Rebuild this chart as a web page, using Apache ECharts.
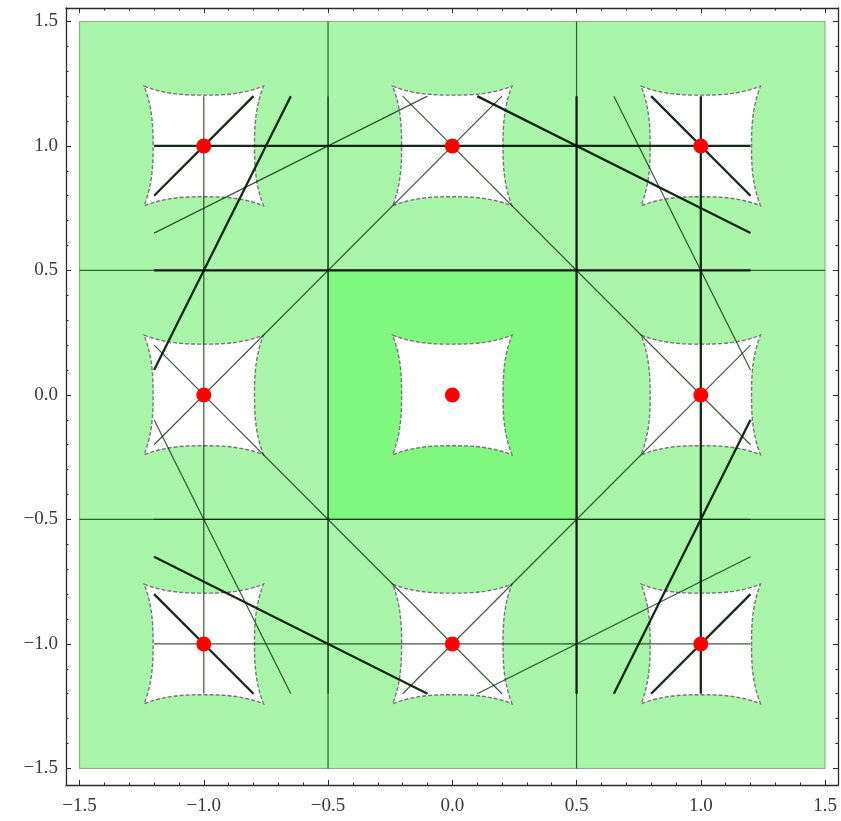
<!DOCTYPE html>
<html>
<head>
<meta charset="utf-8">
<script src="https://cdn.jsdelivr.net/npm/echarts@6/dist/echarts.min.js"></script>
<style>
  html, body { margin: 0; padding: 0; background: #ffffff; }
  #chart { width: 841px; height: 821px; }
</style>
</head>
<body>
<div id="chart"></div>
<script>
// Axis extents and tick positions
const xRange = [-1.5545, 1.552];
const yRange = [-1.5665, 1.554];
const majorTicks = [-1.5, -1.0, -0.5, 0.0, 0.5, 1.0, 1.5];
const minorTicks = [];
for (let k = -15; k <= 15; k++) minorTicks.push(k / 10);

// Shaded regions: [x0, y0, x1, y1]
const outerRegion = [[-1.5, -1.5, 1.5, 1.5]];
const innerRegion = [[-0.5, -0.5, 0.5, 0.5]];

// Cell boundaries spanning the whole domain: [x1, y1, x2, y2]
const cellBoundaries = [
  [-0.5, -1.5, -0.5, 1.5],
  [0.5, -1.5, 0.5, 1.5],
  [-1.5, -0.5, 1.5, -0.5],
  [-1.5, 0.5, 1.5, 0.5]
];

// Heavy line segments: [x1, y1, x2, y2]
const thickSegments = [
  [-1.2, 1.0, 1.2, 1.0],
  [1.0, -1.2, 1.0, 1.2],
  [-1.2, 0.5, 1.2, 0.5],
  [0.5, -1.2, 0.5, 1.2],
  [-1.2, 0.8, -0.8, 1.2],
  [0.8, 1.2, 1.2, 0.8],
  [0.8, -1.2, 1.2, -0.8],
  [-1.2, -0.8, -0.8, -1.2],
  [-1.2, 0.1, -0.65, 1.2],
  [0.65, -1.2, 1.2, -0.1],
  [0.1, 1.2, 1.2, 0.65],
  [-1.2, -0.65, -0.1, -1.2]
];

// Light line segments: [x1, y1, x2, y2]
const thinSegments = [
  [-1.2, -1.0, 1.2, -1.0],
  [-1.0, -1.2, -1.0, 1.2],
  [-1.2, -0.5, 1.2, -0.5],
  [-0.5, -1.2, -0.5, 1.2],
  [-1.2, -0.2, 0.2, 1.2],
  [-0.2, 1.2, 1.2, -0.2],
  [-0.2, -1.2, 1.2, 0.2],
  [-1.2, 0.2, 0.2, -1.2],
  [-1.2, 0.65, -0.1, 1.2],
  [0.1, -1.2, 1.2, -0.65],
  [0.65, 1.2, 1.2, 0.1],
  [-1.2, -0.1, -0.65, -1.2]
];

// Fixed points (centres of the concave cells)
const fixedPoints = [
  [-1, 1], [0, 1], [1, 1],
  [-1, 0], [0, 0], [1, 0],
  [-1, -1], [0, -1], [1, -1]
];

// Concave square outline parameters (half-size, edge sag, edge exponent)
const cellHalf = 0.24;
const cellSag = 0.036;
const cellExp = 2.6;

function fmtTick(v) {
  return (v < 0 ? '\u2212' : '') + Math.abs(v).toFixed(1);
}

function rectItem(params, api) {
  const p0 = api.coord([api.value(0), api.value(3)]);
  const p1 = api.coord([api.value(2), api.value(1)]);
  return { type: 'rect', shape: { x: p0[0], y: p0[1], width: p1[0] - p0[0], height: p1[1] - p0[1] } };
}

function segmentRenderer(stroke, width) {
  return function (params, api) {
    const a = api.coord([api.value(0), api.value(1)]);
    const b = api.coord([api.value(2), api.value(3)]);
    return {
      type: 'line',
      shape: { x1: a[0], y1: a[1], x2: b[0], y2: b[1] },
      style: { stroke: stroke, lineWidth: width, lineCap: 'butt' }
    };
  };
}

function concaveCell(params, api) {
  const cx = api.value(0), cy = api.value(1);
  const n = 30, pts = [];
  const edge = (t) => (cellHalf - cellSag) + cellSag * Math.pow(Math.abs(t), cellExp);
  // top edge, left to right
  for (let i = 0; i <= n; i++) { const t = -1 + 2 * i / n; pts.push([cx + cellHalf * t, cy + edge(t)]); }
  // right edge, top to bottom
  for (let i = 1; i <= n; i++) { const t = 1 - 2 * i / n; pts.push([cx + edge(t), cy + cellHalf * t]); }
  // bottom edge, right to left
  for (let i = 1; i <= n; i++) { const t = 1 - 2 * i / n; pts.push([cx + cellHalf * t, cy - edge(t)]); }
  // left edge, bottom to top
  for (let i = 1; i < n; i++) { const t = -1 + 2 * i / n; pts.push([cx - edge(t), cy + cellHalf * t]); }
  return {
    type: 'polygon',
    shape: { points: pts.map(p => api.coord(p)) },
    style: { fill: '#ffffff', stroke: '#767676', lineWidth: 1.4, lineDash: [4, 2] }
  };
}

const axisColor = '#2a2a2a';
function xAxisDef(pos, ticks, len, withLabels, showLine) {
  return {
    type: 'value', position: pos, min: xRange[0], max: xRange[1],
    axisLine: { show: showLine, onZero: false, lineStyle: { color: axisColor, width: 1.3 } },
    axisTick: { show: true, inside: true, length: len, customValues: ticks, lineStyle: { color: axisColor, width: 1 } },
    axisLabel: withLabels ? {
      show: true, customValues: majorTicks, formatter: fmtTick, margin: 12,
      fontFamily: 'Liberation Serif', fontSize: 19, color: '#3a3a3a'
    } : { show: false },
    splitLine: { show: false }
  };
}
function yAxisDef(pos, ticks, len, withLabels, showLine) {
  return {
    type: 'value', position: pos, min: yRange[0], max: yRange[1],
    axisLine: { show: showLine, onZero: false, lineStyle: { color: axisColor, width: 1.3 } },
    axisTick: { show: true, inside: true, length: len, customValues: ticks, lineStyle: { color: axisColor, width: 1 } },
    axisLabel: withLabels ? {
      show: true, customValues: majorTicks, formatter: fmtTick, margin: 8,
      fontFamily: 'Liberation Serif', fontSize: 19, color: '#3a3a3a'
    } : { show: false },
    splitLine: { show: false }
  };
}

const chart = echarts.init(document.getElementById('chart'), null, { renderer: 'canvas' });
chart.setOption({
  animation: false,
  backgroundColor: '#ffffff',
  grid: { left: 66, right: 3, top: 8, bottom: 36, containLabel: false },
  xAxis: [
    xAxisDef('bottom', majorTicks, 5, true, true),
    xAxisDef('bottom', minorTicks, 2.5, false, false),
    xAxisDef('top', majorTicks, 5, false, true),
    xAxisDef('top', minorTicks, 2.5, false, false)
  ],
  yAxis: [
    yAxisDef('left', majorTicks, 5, true, true),
    yAxisDef('left', minorTicks, 2.5, false, false),
    yAxisDef('right', majorTicks, 5, false, true),
    yAxisDef('right', minorTicks, 2.5, false, false)
  ],
  series: [
    {
      type: 'custom', name: 'outer', z: 1, clip: false, silent: true,
      data: outerRegion,
      renderItem: function (params, api) {
        const r = rectItem(params, api);
        r.style = { fill: '#a9f5a9', stroke: 'rgba(90,110,90,0.6)', lineWidth: 1 };
        return r;
      }
    },
    {
      type: 'custom', name: 'inner', z: 2, clip: false, silent: true,
      data: innerRegion,
      renderItem: function (params, api) {
        const r = rectItem(params, api);
        r.style = { fill: '#80f87f' };
        return r;
      }
    },
    {
      type: 'custom', name: 'boundaries', z: 3, clip: false, silent: true,
      data: cellBoundaries,
      renderItem: segmentRenderer('rgba(0,50,0,0.74)', 1.2)
    },
    {
      type: 'custom', name: 'cells', z: 4, clip: false, silent: true,
      data: fixedPoints,
      renderItem: concaveCell
    },
    {
      type: 'custom', name: 'thin', z: 5, clip: false, silent: true,
      data: thinSegments,
      renderItem: segmentRenderer('rgba(0,35,0,0.76)', 1.2)
    },
    {
      type: 'custom', name: 'thick', z: 6, clip: false, silent: true,
      data: thickSegments,
      renderItem: segmentRenderer('rgba(0,18,0,0.9)', 2.3)
    },
    {
      type: 'scatter', name: 'points', z: 7, silent: true,
      data: fixedPoints, symbol: 'circle', symbolSize: 15,
      itemStyle: { color: '#ff0000', opacity: 1 }
    }
  ]
});
</script>
</body>
</html>
